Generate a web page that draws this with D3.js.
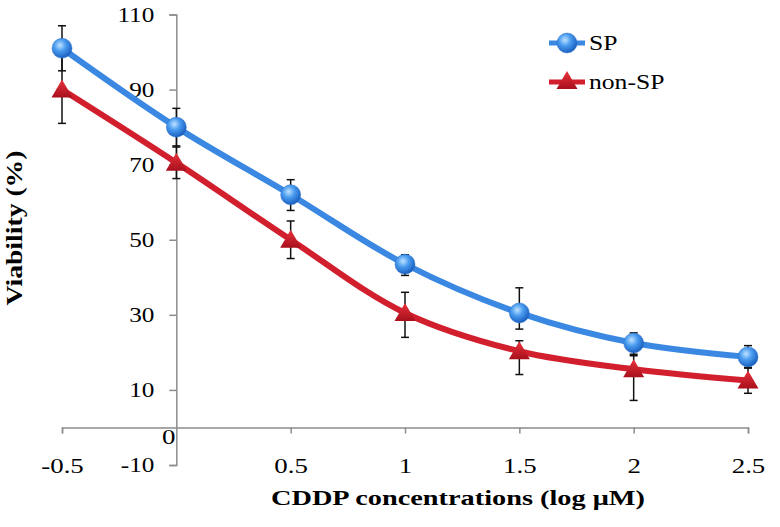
<!DOCTYPE html>
<html>
<head>
<meta charset="utf-8">
<script src="https://cdn.jsdelivr.net/npm/d3@7"></script>
<style>
  body { margin: 0; background: #fff; }
  svg text { font-family: "Liberation Serif", "Times New Roman", serif !important; }
</style>
</head>
<body>
<svg id="chart" width="780" height="527"></svg>
<script>
// values
var xValues = [-0.5, 0, 0.5, 1, 1.5, 2, 2.5];
var spValues = [101, 80, 62, 43.5, 30.5, 22.5, 18.8];
var spErrUp = [6, 5, 4, 2.5, 6.7, 2.7, 3];
var spErrDown = [6, 5.3, 4.2, 3, 4.3, 3, 3];
var nonSpValues = [90, 70.5, 50, 30.5, 20.3, 15.5, 12.5];
var nonSpErrUp = [9, 4.5, 5, 5.5, 2.8, 3.6, 3.5];
var nonSpErrDown = [9, 4.2, 5, 6.5, 6.2, 8.3, 3.4];
var xTicks = [-0.5, 0, 0.5, 1, 1.5, 2, 2.5];
var yTicks = [-10, 10, 30, 50, 70, 90, 110];

var serif = "Liberation Serif";
var svg = d3.select("#chart");

// the source figure's lettering is a bit wide, stretch text horizontally
function widen(sel, k) {
    sel.each(function() {
        var w = this.getComputedTextLength();
        d3.select(this).attr("textLength", w * k).attr("lengthAdjust", "spacingAndGlyphs");
    });
}

var x = d3.scaleLinear().domain([-0.5, 2.5]).range([62, 748]);
var y = d3.scaleLinear().domain([-10, 110]).range([465, 14.5]);

var defs = svg.append("defs");
var rg = defs.append("radialGradient").attr("id", "ball")
    .attr("cx", "40%").attr("cy", "35%").attr("r", "65%");
rg.append("stop").attr("offset", "0%").attr("stop-color", "#bfe2ff");
rg.append("stop").attr("offset", "45%").attr("stop-color", "#4a9cf0");
rg.append("stop").attr("offset", "100%").attr("stop-color", "#1a5fc0");
var lg = defs.append("linearGradient").attr("id", "tri")
    .attr("x1", "0").attr("y1", "0").attr("x2", "0").attr("y2", "1");
lg.append("stop").attr("offset", "0%").attr("stop-color", "#e8323c");
lg.append("stop").attr("offset", "100%").attr("stop-color", "#a8101c");

// axes
var xAxis = svg.append("g")
    .attr("transform", "translate(0," + y(0) + ")")
    .call(d3.axisBottom(x).tickValues(xTicks).tickSize(6).tickPadding(25)
          .tickFormat(function(d) { return String(d); }));
xAxis.attr("font-family", serif).attr("font-size", 21);
xAxis.select(".domain").attr("stroke", "#8c8c8c").attr("stroke-width", 1.5);
xAxis.selectAll(".tick line").attr("stroke", "#8c8c8c").attr("stroke-width", 1.5);
xAxis.selectAll(".tick text").attr("fill", "#000");
// the 0 label sits next to the axis crossing
xAxis.selectAll(".tick").filter(function(d) { return d === 0; })
    .each(function() {
        d3.select(this).select("line").remove();
        d3.select(this).select("text").attr("x", -8).attr("y", 2);
    });
widen(xAxis.selectAll(".tick text"), 1.28);

var yAxis = svg.append("g")
    .attr("transform", "translate(" + x(0) + ",0)")
    .call(d3.axisLeft(y).tickValues(yTicks).tickSize(7).tickPadding(15)
          .tickFormat(function(d) { return String(d); }));
yAxis.attr("font-family", serif).attr("font-size", 21);
yAxis.select(".domain").attr("stroke", "#8c8c8c").attr("stroke-width", 1.5);
yAxis.selectAll(".tick line").attr("stroke", "#8c8c8c").attr("stroke-width", 1.5);
yAxis.selectAll(".tick text").attr("fill", "#000");
widen(yAxis.selectAll(".tick text"), 1.2);

// axis titles
svg.append("text")
    .attr("x", 458).attr("y", 505)
    .attr("text-anchor", "middle")
    .attr("font-family", serif).attr("font-size", 22).attr("font-weight", "bold")
    .attr("textLength", 374).attr("lengthAdjust", "spacingAndGlyphs")
    .text("CDDP concentrations (log μM)");

svg.append("text")
    .attr("transform", "translate(22,228) rotate(-90)")
    .attr("text-anchor", "middle")
    .attr("font-family", serif).attr("font-size", 23).attr("font-weight", "bold")
    .attr("textLength", 155).attr("lengthAdjust", "spacingAndGlyphs")
    .text("Viability (%)");

var series = [
    {name: "SP", values: spValues, up: spErrUp, down: spErrDown, color: "#3a88e2", marker: "circle"},
    {name: "non-SP", values: nonSpValues, up: nonSpErrUp, down: nonSpErrDown, color: "#d21f2d", marker: "triangle"}
];

var line = d3.line()
    .x(function(d) { return x(d[0]); })
    .y(function(d) { return y(d[1]); })
    .curve(d3.curveCatmullRom.alpha(0.5));

series.forEach(function(s) {
    var pts = xValues.map(function(v, i) { return [v, s.values[i]]; });
    svg.append("path")
        .datum(pts)
        .attr("fill", "none")
        .attr("stroke", s.color)
        .attr("stroke-width", 6)
        .attr("d", line);
});

// error bars
series.forEach(function(s) {
    var g = svg.append("g").attr("stroke", "#111").attr("stroke-width", 1.5);
    xValues.forEach(function(v, i) {
        var hi = y(s.values[i] + s.up[i]), lo = y(s.values[i] - s.down[i]), cx = x(v);
        g.append("line").attr("x1", cx).attr("x2", cx).attr("y1", hi).attr("y2", lo);
        g.append("line").attr("x1", cx - 4).attr("x2", cx + 4).attr("y1", hi).attr("y2", hi);
        g.append("line").attr("x1", cx - 4).attr("x2", cx + 4).attr("y1", lo).attr("y2", lo);
    });
});

function drawMarker(g, type, cx, cy) {
    if (type === "circle") {
        g.append("circle").attr("cx", cx).attr("cy", cy).attr("r", 10)
            .attr("fill", "url(#ball)").attr("stroke", "#2a70c8").attr("stroke-width", 0.5);
    } else {
        g.append("path")
            .attr("d", "M" + cx + "," + (cy - 10) + "L" + (cx + 10.5) + "," + (cy + 8) + "L" + (cx - 10.5) + "," + (cy + 8) + "Z")
            .attr("fill", "url(#tri)");
    }
}

series.forEach(function(s) {
    var g = svg.append("g");
    xValues.forEach(function(v, i) {
        drawMarker(g, s.marker, x(v), y(s.values[i]));
    });
});

// legend
var legend = svg.append("g");
series.forEach(function(s, i) {
    var ly = 43 + i * 39;
    legend.append("line")
        .attr("x1", 549).attr("x2", 585).attr("y1", ly).attr("y2", ly)
        .attr("stroke", s.color).attr("stroke-width", 5);
    drawMarker(legend, s.marker, 567, s.marker === "circle" ? ly : ly - 1);
    legend.append("text")
        .attr("x", 589).attr("y", ly + 7)
        .attr("font-family", serif).attr("font-size", 21)
        .text(s.name);
});
widen(legend.selectAll("text"), 1.22);
</script>
</body>
</html>
